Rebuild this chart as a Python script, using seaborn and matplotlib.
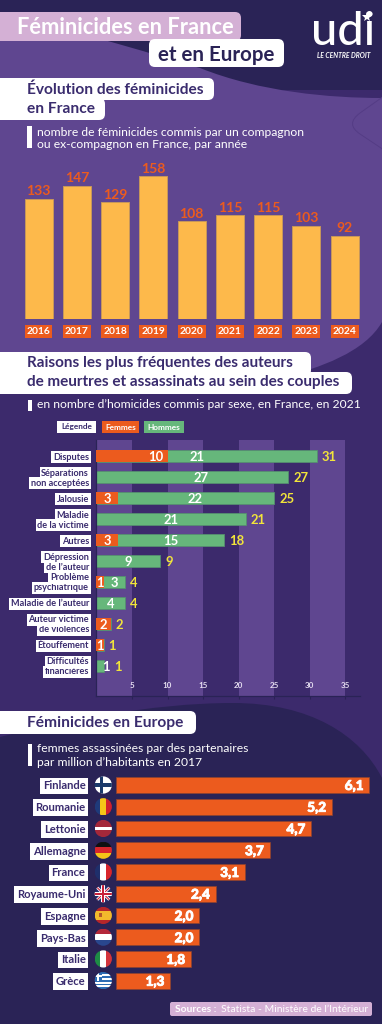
import pandas as pd
import seaborn as sns
import matplotlib.pyplot as plt
import matplotlib.patheffects as pe
from matplotlib.patches import FancyBboxPatch, PathPatch, Rectangle, Circle
from matplotlib.path import Path

# Data
annees = ["2016", "2017", "2018", "2019", "2020", "2021", "2022", "2023", "2024"]
feminicides = [133, 147, 129, 158, 108, 115, 115, 103, 92]

raisons = ["Disputes", "Séparations\nnon acceptées", "Jalousie", "Maladie\nde la victime", "Autres",
           "Dépression\nde l’auteur", "Problème\npsychiatrique", "Maladie de l’auteur",
           "Auteur victime\nde violences", "Étouffement", "Difficultés\nfinancières"]
femmes = [10, 0, 3, 0, 3, 0, 1, 0, 2, 1, 0]
hommes = [21, 27, 22, 21, 15, 9, 3, 4, 0, 0, 1]

pays = ["Finlande", "Roumanie", "Lettonie", "Allemagne", "France", "Royaume-Uni",
        "Espagne", "Pays-Bas", "Italie", "Grèce"]
taux = [6.1, 5.2, 4.7, 3.7, 3.1, 2.4, 2.0, 2.0, 1.8, 1.3]

# Colours
NAVY = "#2A2356"
MID = "#3C2A6C"
PURPLE = "#5F4690"
PINK = "#D4B0D5"
ORANGE = "#EC5B1E"
YELLOW = "#FDB94B"
GREEN = "#66B77B"
LEMON = "#F2E53A"
INK = "#3A2C6E"

W, H = 382, 1024
sns.set_theme(style="white")
plt.rcParams["font.family"] = ["Lato", "DejaVu Sans"]

fig = plt.figure(figsize=(W / 100, H / 100), dpi=100, facecolor=NAVY)


def px(size):
    return size * 0.72


def axes_px(x0, y0, x1, y1):
    a = fig.add_axes([x0 / W, 1 - y1 / H, (x1 - x0) / W, (y1 - y0) / H])
    a.patch.set_alpha(0)
    return a


# Background
bg = fig.add_axes([0, 0, 1, 1], zorder=-1)
bg.set_xlim(0, W)
bg.set_ylim(H, 0)
bg.axis("off")
bg.add_patch(Rectangle((0, 90), W, 720, fc=MID, ec="none"))

C3, C4 = Path.CURVE3, Path.CURVE4
upper = Path([(0, 20), (90, 30), (160, 58), (200, 68), (260, 92), (330, 98), (382, 98),
              (382, 322), (365, 352), (320, 368), (280, 378), (0, 392), (0, 20)],
             [Path.MOVETO, C4, C4, C4, C4, C4, C4, Path.LINETO, C4, C4, C4, Path.LINETO, Path.CLOSEPOLY])
bg.add_patch(PathPatch(upper, fc=PURPLE, ec="none"))
lower = Path([(0, 737), (60, 722), (150, 703), (233, 703), (310, 703), (360, 735), (382, 778),
              (382, 1024), (0, 1024), (0, 737)],
             [Path.MOVETO, C4, C4, C4, C4, C4, C4, Path.LINETO, Path.LINETO, Path.CLOSEPOLY])
bg.add_patch(PathPatch(lower, fc=NAVY, ec="none"))
# faint rounded shape on the right edge
shape = Path([(384, 96), (360, 113), (345, 124), (360, 134), (384, 150)],
             [Path.MOVETO, Path.LINETO, C3, C3, Path.LINETO])
bg.add_patch(PathPatch(shape, fc="none", ec="#543C85", lw=0.7))


def pill(x0, x1, y0, y1, color, r=6):
    bg.add_patch(FancyBboxPatch((x0, y0), x1 - x0, y1 - y0, boxstyle=f"round,pad=0,rounding_size={r}",
                                fc=color, ec="none"))


def txt(x, y, s, size, color="white", weight="normal", **kw):
    kw.setdefault("va", "center")
    return bg.text(x, y, s, fontsize=px(size), color=color, fontweight=weight, **kw)


# Headings
pill(-20, 241, 12, 41, PINK)
txt(17, 27, "Féminicides en France", 21.9, weight="bold")
pill(149, 284, 39, 67, "white")
txt(158, 55, "et en Europe", 20.5, color=NAVY, weight="bold")

pill(-20, 105, 98, 120, "white")
pill(-20, 214, 78, 100, "white")
txt(27, 90, "Évolution des féminicides", 15.5, color=INK, weight="bold")
txt(27, 109, "en France", 15.5, color=INK, weight="bold")
bg.add_patch(Rectangle((27, 126), 5, 22, fc="white", ec="none"))
txt(37, 132, "nombre de féminicides commis par un compagnon", 12.1)
txt(37, 145, "ou ex-compagnon en France, par année", 12.1)

# Logo
txt(343, 32, "udi", 47, ha="center", weight="medium")
bg.plot([367], [17], marker="*", color="white", markersize=7, markeredgewidth=0)
txt(343.5, 55, "LE CENTRE DROIT", 6.8, ha="center", weight="bold", style="italic")

pill(-20, 352, 372, 394, "white")
pill(-20, 311, 352, 376, "white")
txt(27, 363, "Raisons les plus fréquentes des auteurs", 15.3, color=INK, weight="bold")
txt(27, 382, "de meurtres et assassinats au sein des couples", 15.3, color=INK, weight="bold")
bg.add_patch(Rectangle((28, 400), 4, 11, fc="white", ec="none"))
txt(37, 405, "en nombre d’homicides commis par sexe, en France, en 2021", 12.1)

# Legend swatches
for x0, x1, label, fc, fg in [(57, 96, "Légende", "white", INK), (102, 139, "Femmes", ORANGE, "white"),
                              (144, 184, "Hommes", GREEN, "white")]:
    bg.add_patch(Rectangle((x0, 421), x1 - x0, 12, fc=fc, ec="none"))
    txt((x0 + x1) / 2, 427, label, 8.3, color=fg, ha="center", weight="bold")

pill(-20, 196, 711, 734, "white")
txt(27, 723, "Féminicides en Europe", 15.5, color=INK, weight="bold")
bg.add_patch(Rectangle((28, 744), 4, 22, fc="white", ec="none"))
txt(37, 749, "femmes assassinées par des partenaires", 12.1)
txt(37, 762, "par million d’habitants en 2017", 12.1)

# Sources
pill(170, 372, 1002, 1016, PINK, r=2)
txt(175, 1009.5, "Sources :", 10.3, weight="bold")
txt(221, 1009.5, "Statista - Ministère de l’Intérieur", 10.4)

# Chart 1
ax1 = axes_px(19.4, 165, 363.8, 319.3)
df1 = pd.DataFrame({"annee": annees, "n": feminicides})
sns.barplot(data=df1, x="annee", y="n", color=YELLOW, saturation=1, width=0.73,
            edgecolor="#C6975A", linewidth=0.7, ax=ax1)
ax1.bar_label(ax1.containers[0], padding=1, color=ORANGE, fontsize=px(14), fontweight="bold")
ax1.set_xlim(-0.5, 8.5)
ax1.set_ylim(0, 170)
ax1.set(xlabel="", ylabel="", yticks=[])
ax1.tick_params(axis="x", length=0, pad=5.5, labelsize=px(10.3), labelcolor="white")
for lab in ax1.get_xticklabels():
    lab.set_fontweight("bold")
    lab.set_bbox(dict(fc=ORANGE, ec="none", pad=1.5))
sns.despine(ax=ax1, left=True, bottom=True)

# Chart 2
ax2 = axes_px(96.5, 440, 360, 695.5)
totaux = [f + h for f, h in zip(femmes, hommes)]
df2 = pd.DataFrame({"raison": raisons, "femmes": femmes, "hommes": hommes, "total": totaux})
for left in [0, 10, 20, 30]:
    ax2.axvspan(left, left + 5, color=PURPLE, lw=0, zorder=0)
sns.barplot(data=df2, y="raison", x="total", color=GREEN, saturation=1, width=0.57,
            edgecolor="#558F70", linewidth=0.6, ax=ax2, zorder=2)
sns.barplot(data=df2, y="raison", x="femmes", color=ORANGE, saturation=1, width=0.57,
            linewidth=0, ax=ax2, zorder=3)
ax2.set_xlim(0, 37.1)
ax2.set_ylim(11.42, -0.776)
ax2.set(xlabel="", ylabel="")
ax2.set_xticks([5, 10, 15, 20, 25, 30, 35])
ax2.set_yticks(range(len(raisons)))
ax2.set_yticklabels([])
ax2.tick_params(axis="x", direction="out", length=2.5, width=0.8, color=NAVY, pad=-12.5,
                labelsize=px(8), labelcolor="#E5DDF0", bottom=True)
ax2.tick_params(axis="y", length=0)
for lab in ax2.get_xticklabels():
    lab.set_fontweight("bold")
    lab.set_zorder(5)
sns.despine(ax=ax2)
for side in ["left", "bottom"]:
    ax2.spines[side].set_color(NAVY)
    ax2.spines[side].set_linewidth(0.9)

# row labels, one white box per line
trans = ax2.get_yaxis_transform()
for i, lab in enumerate(raisons):
    lines = lab.split("\n")
    for j, line in enumerate(lines):
        dy = 3.6 * (len(lines) - 1) - 7.2 * j
        ax2.annotate(line, xy=(0, i), xycoords=trans, xytext=(-5.4, dy), textcoords="offset points",
                     ha="right", va="center_baseline", fontsize=px(9.1), fontweight="bold", color=INK,
                     bbox=dict(fc="white", ec="none", pad=1.2), annotation_clip=False, zorder=6 - j)

# value labels
lab_size = px(13)
hommes_x = {0: 14.2, 1: 14.7, 2: 13.9}
for i in range(len(raisons)):
    f, h, tot = femmes[i], hommes[i], totaux[i]
    if f:
        fx = 8.3 if f == 10 else f / 2
        ax2.text(fx, i, str(f), color="white", fontsize=lab_size, fontweight="bold", ha="center",
                 va="center_baseline", zorder=4)
    if h:
        hx = hommes_x.get(i, f + h / 2)
        if h == 1:
            hx = 1.3
        ax2.text(hx, i, str(h), color="white", fontsize=lab_size, fontweight="bold", ha="center",
                 va="center_baseline", zorder=4)
    extra = 11 if i == len(raisons) - 1 else 5
    ax2.annotate(str(tot), xy=(tot, i), xytext=(px(extra), 0), textcoords="offset points", color=LEMON,
                 fontsize=lab_size, fontweight="bold", ha="left", va="center_baseline", zorder=4)

# Chart 3
ax3 = axes_px(116, 774.1, 382, 991.6)
df3 = pd.DataFrame({"pays": pays, "taux": taux})
sns.barplot(data=df3, y="pays", x="taux", color=ORANGE, saturation=1, width=0.72,
            edgecolor="#8C4230", linewidth=0.5, ax=ax3)
ax3.set_xlim(0, 6.41)
ax3.set_ylim(9.5, -0.5)
ax3.set(xlabel="", ylabel="", xticks=[])
ax3.set_yticks(range(len(pays)))
ax3.set_yticklabels([])
ax3.tick_params(axis="y", length=0)
sns.despine(ax=ax3, left=True, bottom=True)
trans3 = ax3.get_yaxis_transform()
thick = [pe.withStroke(linewidth=0.6, foreground="white")]
for i, (p, v) in enumerate(zip(pays, taux)):
    ax3.annotate(f"{v:.1f}".replace(".", ","), xy=(v, i), xytext=(-4, 0), textcoords="offset points",
                 color="white", fontsize=px(13.5), fontweight="black", ha="right", va="center_baseline",
                 path_effects=thick)
    ax3.annotate(p, xy=(0, i), xycoords=trans3, xytext=(px(-30.5), 0), textcoords="offset points",
                 color=INK, fontsize=px(11.3), fontweight="bold", ha="right", va="center_baseline",
                 bbox=dict(fc="white", ec="none", pad=2.0), annotation_clip=False)


# Flags
def flag(cy, bands, vertical=False, extra=None, diagonals=False):
    cx, r = 103.3, 8.6
    clip = Circle((cx, cy), r, transform=bg.transData)
    n = len(bands)
    shapes = []
    for k, c in enumerate(bands):
        if vertical:
            shapes.append(Rectangle((cx - r + 2 * r * k / n, cy - r), 2 * r / n, 2 * r, fc=c, ec="none"))
        else:
            shapes.append(Rectangle((cx - r, cy - r + 2 * r * k / n), 2 * r, 2 * r / n, fc=c, ec="none"))
    for s in shapes:
        bg.add_patch(s)
        s.set_clip_path(clip)
    if diagonals:
        for c, lw in [("white", 2.0), ("#C8203A", 0.8)]:
            for sign in (1, -1):
                line, = bg.plot([cx - r, cx + r], [cy - sign * r, cy + sign * r], color=c, lw=lw)
                line.set_clip_path(clip)
    for x, y, w, h, c in (extra or []):
        s = Rectangle((cx + x, cy + y), w, h, fc=c, ec="none", zorder=3)
        bg.add_patch(s)
        s.set_clip_path(clip)


row = 21.74
flag(785, ["white"], extra=[(-9, -1.8, 18, 3.6, "#1B3A6B"), (-3.6, -9, 3.6, 18, "#1B3A6B")])
flag(785 + row, ["#1F3A7A", "#F5C518", "#D0202E"], vertical=True)
flag(785 + 2 * row, ["#A4283A", "#A4283A", "white", "#A4283A", "#A4283A"])
flag(785 + 3 * row, ["#111111", "#D8262C", "#F5C518"])
flag(785 + 4 * row, ["#1F2F6B", "white", "#D8262C"], vertical=True)
flag(785 + 5 * row, ["#27306E"], diagonals=True,
     extra=[(-9, -2, 18, 4, "white"), (-2, -9, 4, 18, "white"),
            (-9, -1, 18, 2, "#C8203A"), (-1, -9, 2, 18, "#C8203A")])
flag(785 + 6 * row, ["#B5262A", "#F2B92C", "#F2B92C", "#B5262A"], extra=[(-4.5, -2, 3, 4, "#B5572A")])
flag(785 + 7 * row, ["#B4283A", "white", "#29478E"])
flag(785 + 8 * row, ["#1E8B45", "white", "#D3343C"], vertical=True)
flag(785 + 9 * row, ["#2E6DB5", "white", "#2E6DB5", "white", "#2E6DB5", "white", "#2E6DB5", "white", "#2E6DB5"],
     extra=[(-9, -9, 8, 9, "#2E6DB5"), (-9, -5.5, 8, 2, "white"), (-6, -9, 2, 9, "white")])

fig.savefig("out.png", dpi=100, facecolor=NAVY)
